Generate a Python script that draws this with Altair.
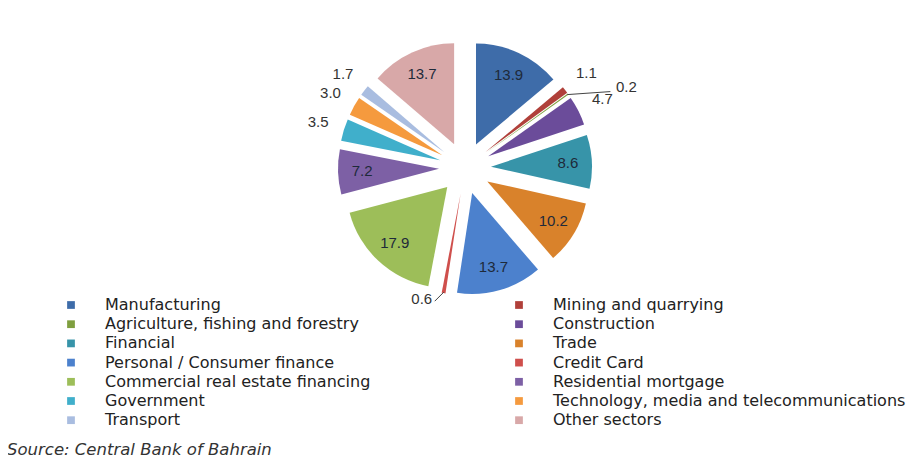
import altair as alt
import pandas as pd

# ---- data ----
sectors = [
    "Manufacturing",
    "Mining and quarrying",
    "Agriculture, fishing and forestry",
    "Construction",
    "Financial",
    "Trade",
    "Personal / Consumer finance",
    "Credit Card",
    "Commercial real estate financing",
    "Residential mortgage",
    "Government",
    "Technology, media and telecommunications",
    "Transport",
    "Other sectors",
]
shares = [13.9, 1.1, 0.2, 4.7, 8.6, 10.2, 13.7, 0.6, 17.9, 7.2, 3.5, 3.0, 1.7, 13.7]
colors = [
    "#3E6CA9", "#B0403A", "#7F9F3F", "#6B4C9A", "#3794A9", "#D9822B", "#4C81CD",
    "#CF4F4C", "#9DBE59", "#7D60A5", "#40AFCB", "#F59A3E", "#A9BDE0", "#D8A8A8",
]
source_text = "Source: Central Bank of Bahrain"

# legend is laid out column by column: reorder so that it reads row by row
legend_order = sectors[0::2] + sectors[1::2]
legend_colors = [colors[sectors.index(s)] for s in legend_order]

# ---- layout constants (pixels, plot-area coordinates) ----
CX, CY = 457, 160      # pie centre
EXPLODE = 26           # distance every slice is pulled out
R = 101                # slice radius
IN_R = 103             # radius of labels drawn inside slices
OUT_R = 154            # radius of labels outside small slices
# leader-line labels for the tiniest slices: (line dx, line dy, label dx, label dy) from slice tip
LEADERS = {
    "Agriculture, fishing and forestry": (43, -3, 59, -8),
    "Credit Card": (-9, 9, -22, 7),
}

df = pd.DataFrame({"sector": sectors, "share": shares, "order": list(range(len(sectors)))})
df["ldx"] = [LEADERS.get(s, (0, 0, 0, 0))[0] for s in sectors]
df["ldy"] = [LEADERS.get(s, (0, 0, 0, 0))[1] for s in sectors]
df["tdx"] = [LEADERS.get(s, (0, 0, 0, 0))[2] for s in sectors]
df["tdy"] = [LEADERS.get(s, (0, 0, 0, 0))[3] for s in sectors]
df["leader"] = [s in LEADERS for s in sectors]
df["label"] = [f"{v:.1f}" for v in shares]

base = alt.Chart(df).transform_window(
    cum="sum(share)", sort=[alt.SortField("order")], frame=[None, 0]
).transform_calculate(
    start="(datum.cum - datum.share) / 100 * 2 * PI",
    end="datum.cum / 100 * 2 * PI",
).transform_calculate(
    mid="(datum.start + datum.end) / 2",
).transform_calculate(
    ax=f"{CX} + {EXPLODE} * sin(datum.mid)",
    ay=f"{CY} - {EXPLODE} * cos(datum.mid)",
    inx=f"{CX} + {IN_R} * sin(datum.mid)",
    iny=f"{CY} - {IN_R} * cos(datum.mid)",
    outx=f"{CX} + {OUT_R} * sin(datum.mid)",
    outy=f"{CY} - {OUT_R} * cos(datum.mid)",
    tipx=f"{CX} + {EXPLODE + R - 1} * sin(datum.mid)",
    tipy=f"{CY} - {EXPLODE + R - 1} * cos(datum.mid)",
)

color = alt.Color(
    "sector:N",
    scale=alt.Scale(domain=legend_order, range=legend_colors),
    legend=alt.Legend(
        title=None,
        orient="none",
        legendX=55,
        legendY=289,
        columns=2,
        columnPadding=140,
        symbolType="square",
        symbolSize=60,
        symbolStrokeWidth=0,
        labelFont="DejaVu Sans",
        labelFontSize=16,
        labelColor="#222222",
        labelOffset=26,
        rowPadding=3.2,
        labelLimit=0,
    ),
)

arcs = base.mark_arc(outerRadius=R).encode(
    theta=alt.Theta("start:Q", scale=None, stack=None),
    theta2="end:Q",
    x=alt.X("ax:Q", scale=None),
    y=alt.Y("ay:Q", scale=None),
    color=color,
)

inside = base.transform_filter("datum.share >= 5").mark_text(
    font="Liberation Sans", fontSize=15, color="#1e2a3a", align="center", baseline="middle"
).encode(
    x=alt.X("inx:Q", scale=None),
    y=alt.Y("iny:Q", scale=None),
    text="label:N",
)

outside = base.transform_filter("datum.share < 5 && !datum.leader").mark_text(
    font="Liberation Sans", fontSize=15, color="#333333", align="center", baseline="middle"
).encode(
    x=alt.X("outx:Q", scale=None),
    y=alt.Y("outy:Q", scale=None),
    text="label:N",
)

leader_base = base.transform_filter("datum.leader")
leader_lines = leader_base.mark_rule(color="#444444", strokeWidth=1).transform_calculate(
    lx2="datum.tipx + datum.ldx", ly2="datum.tipy + datum.ldy"
).encode(
    x=alt.X("tipx:Q", scale=None),
    y=alt.Y("tipy:Q", scale=None),
    x2="lx2:Q",
    y2="ly2:Q",
)
leader_text = leader_base.mark_text(
    font="Liberation Sans", fontSize=15, color="#333333", align="center", baseline="middle"
).transform_calculate(
    lx="datum.tipx + datum.tdx", ly="datum.tipy + datum.tdy"
).encode(
    x=alt.X("lx:Q", scale=None),
    y=alt.Y("ly:Q", scale=None),
    text="label:N",
)

source = alt.Chart(pd.DataFrame({"t": [source_text]})).mark_text(
    font="DejaVu Sans", fontStyle="italic", fontSize=16.5, color="#333333",
    align="left", baseline="alphabetic",
).encode(x=alt.value(-1), y=alt.value(447), text="t:N")

chart = alt.layer(arcs, inside, outside, leader_lines, leader_text, source).properties(
    width=899, height=451, padding=0, autosize="none", background="white"
).configure_view(stroke=None)

chart.save("out.html", embed_options={"renderer": "svg", "actions": False})
